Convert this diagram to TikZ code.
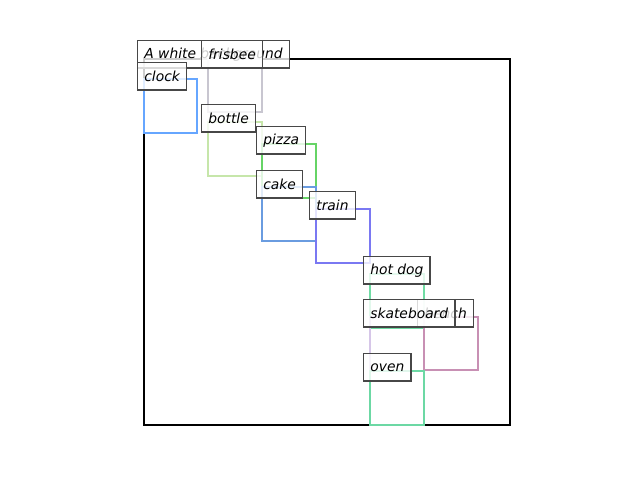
\documentclass[tikz,border=0pt]{standalone}
\usepackage{fontspec}
\setmainfont{DejaVu Sans}
\usetikzlibrary{positioning}
\definecolor{clockc}{RGB}{102,166,255}
\definecolor{frisbeec}{RGB}{200,198,208}
\definecolor{bottlec}{RGB}{198,230,170}
\definecolor{pizzac}{RGB}{102,212,102}
\definecolor{cakec}{RGB}{106,156,224}
\definecolor{trainc}{RGB}{122,120,242}
\definecolor{hotdogc}{RGB}{112,220,164}
\definecolor{skatec}{RGB}{214,198,232}
\definecolor{benchc}{RGB}{200,144,180}
\definecolor{ovenc}{RGB}{108,216,164}
\tikzset{
x=0.72bp,
y=-0.72bp,
region/.style={line width=1.8bp},
frame/.style={line width=1.5bp, draw=black},
tag/.style={draw=black!72, line width=1bp, fill=white, fill opacity=0.8, text opacity=1,
  font=\itshape, anchor=north west, minimum height=19.6bp, inner xsep=4.8bp, inner ysep=0pt},
}
\begin{document}
\begin{tikzpicture}
    \useasboundingbox (0,0) rectangle (640,480);
    % regions
    \draw[frame] (144,59) rectangle (510,425);
    \draw[region, clockc] (144,79) rectangle (197,133);
    \draw[region, frisbeec] (208,59) rectangle (262,112);
    \draw[region, bottlec] (208,122) rectangle (262,176);
    \draw[region, pizzac] (262,144) rectangle (316,198);
    \draw[region, cakec] (262,187) rectangle (316,241);
    \draw[region, trainc] (316,209) rectangle (370,263);
    \draw[region, hotdogc] (370,274) rectangle (424,328);
    \draw[region, skatec] (370,317) rectangle (424,371);
    \draw[region, benchc] (424,317) rectangle (478,370);
    \draw[region, ovenc] (370,371) rectangle (424,425);

    % tags
    \node[tag] (caption) at (137,40) {A white background};
    \node[tag] (clock) at (137,62) {clock};
    \node[tag] (frisbee) at (201,40) {frisbee};
    \node[tag] (bottle) at (201,104) {bottle};
    \node[tag] (pizza) at (256,126) {pizza};
    \node[tag] (cake) at (256,170) {cake};
    \node[tag] (train) at (309,191) {train};
    \node[tag] (hotdog) at (363,256) {hot dog};
    \node[tag] (bench) at (417,299) {bench};
    \node[tag] (skateboard) at (363,299) {skateboard};
    \node[tag] (oven) at (363,353) {oven};
\end{tikzpicture}
\end{document}
